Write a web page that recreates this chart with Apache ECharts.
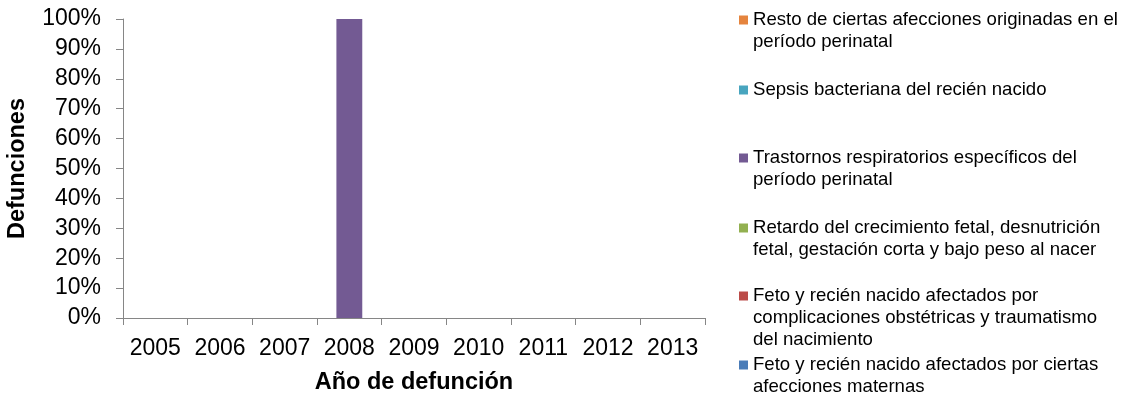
<!DOCTYPE html>
<html>
<head>
<meta charset="utf-8">
<script src="https://cdn.jsdelivr.net/npm/echarts@6/dist/echarts.min.js"></script>
<style>
  html, body { margin: 0; padding: 0; background: #fff; }
  #chart { width: 1125px; height: 393px; }
</style>
</head>
<body>
<div id="chart"></div>
<script>
// Years on the category axis
const years = ['2005', '2006', '2007', '2008', '2009', '2010', '2011', '2012', '2013'];

// Share of deaths (%) per cause and year, stacked bottom to top
const causeNames = [
  'Feto y recién nacido afectados por ciertas afecciones maternas',
  'Feto y recién nacido afectados por complicaciones obstétricas y traumatismo del nacimiento',
  'Retardo del crecimiento fetal, desnutrición fetal, gestación corta y bajo peso al nacer',
  'Trastornos respiratorios específicos del período perinatal',
  'Sepsis bacteriana del recién nacido',
  'Resto de ciertas afecciones originadas en el período perinatal'
];
const maternas       = [0, 0, 0, 0, 0, 0, 0, 0, 0];
const complicaciones = [0, 0, 0, 0, 0, 0, 0, 0, 0];
const retardo        = [0, 0, 0, 0, 0, 0, 0, 0, 0];
const respiratorios  = [0, 0, 0, 100, 0, 0, 0, 0, 0];
const sepsis         = [0, 0, 0, 0, 0, 0, 0, 0, 0];
const resto          = [0, 0, 0, 0, 0, 0, 0, 0, 0];

// Legend text, wrapped as it is displayed
const legendLines = [
  ['Feto y recién nacido afectados por ciertas', 'afecciones maternas'],
  ['Feto y recién nacido afectados por', 'complicaciones obstétricas y traumatismo', 'del nacimiento'],
  ['Retardo del crecimiento fetal, desnutrición', 'fetal, gestación corta y bajo peso al nacer'],
  ['Trastornos respiratorios específicos del', 'período perinatal'],
  ['Sepsis bacteriana del recién nacido'],
  ['Resto de ciertas afecciones originadas en el', 'período perinatal']
];

// Y axis ticks
const yMin = 0, yMax = 100, yStep = 10;

const seriesValues = [maternas, complicaciones, retardo, respiratorios, sepsis, resto];
const colors = ['#4a7cb8', '#bb4b48', '#92b050', '#735a93', '#48a5bf', '#e5843e'];

// Vertical centre of each legend marker (px) for causes in stacking order
const legendCenters = [365, 296, 228, 158, 90, 20];
const LINE_H = 22;

const FONT = '"Liberation Sans", Arial, sans-serif';

// One legend block per cause; blank lines above the text keep the
// first text line level with the marker (legend text is centred on it)
const legends = causeNames.map((name, i) => {
  const n = legendLines[i].length;
  const boxH = (2 * n - 1) * LINE_H;
  return {
    data: [name],
    orient: 'vertical',
    left: 739,
    top: legendCenters[i] - boxH / 2,
    padding: 0,
    itemWidth: 9,
    itemHeight: 9,
    icon: 'rect',
    selectedMode: false,
    formatter: () => '\n'.repeat(n - 1) + legendLines[i].join('\n'),
    textStyle: {
      fontFamily: FONT,
      fontSize: 18.6,
      lineHeight: LINE_H,
      color: '#000'
    }
  };
});

const chart = echarts.init(document.getElementById('chart'), null, { renderer: 'canvas' });

chart.setOption({
  animation: false,
  backgroundColor: '#fff',
  textStyle: { fontFamily: FONT },
  color: colors,
  legend: legends,
  grid: { left: 123, right: 420, top: 19, bottom: 75, containLabel: false, outerBoundsMode: 'none' },
  xAxis: {
    type: 'category',
    data: years,
    boundaryGap: true,
    name: 'Año de defunción',
    nameLocation: 'middle',
    nameGap: 53,
    nameTextStyle: { fontFamily: FONT, fontSize: 23.5, fontWeight: 'bold', color: '#000' },
    axisLine: { lineStyle: { color: '#868686', width: 1 } },
    axisTick: { show: true, length: 7, interval: 0, alignWithLabel: false, lineStyle: { color: '#868686' } },
    axisLabel: { fontFamily: FONT, fontSize: 23, color: '#000', margin: 19, interval: 0 },
    splitLine: { show: false }
  },
  yAxis: {
    type: 'value',
    min: yMin,
    max: yMax,
    interval: yStep,
    name: 'Defunciones',
    nameLocation: 'middle',
    nameGap: 93,
    nameRotate: 90,
    nameTextStyle: { fontFamily: FONT, fontSize: 23.5, fontWeight: 'bold', color: '#000' },
    axisLine: { show: true, lineStyle: { color: '#868686', width: 1 } },
    axisTick: { show: true, length: 7, inside: false, lineStyle: { color: '#868686' } },
    axisLabel: { fontFamily: FONT, fontSize: 23, color: '#000', margin: 22, formatter: '{value}%' },
    splitLine: { show: false }
  },
  series: causeNames.map((name, i) => ({
    name: name,
    type: 'bar',
    stack: 'total',
    barWidth: '40%',
    data: seriesValues[i],
    itemStyle: { color: colors[i] }
  }))
});
</script>
</body>
</html>
